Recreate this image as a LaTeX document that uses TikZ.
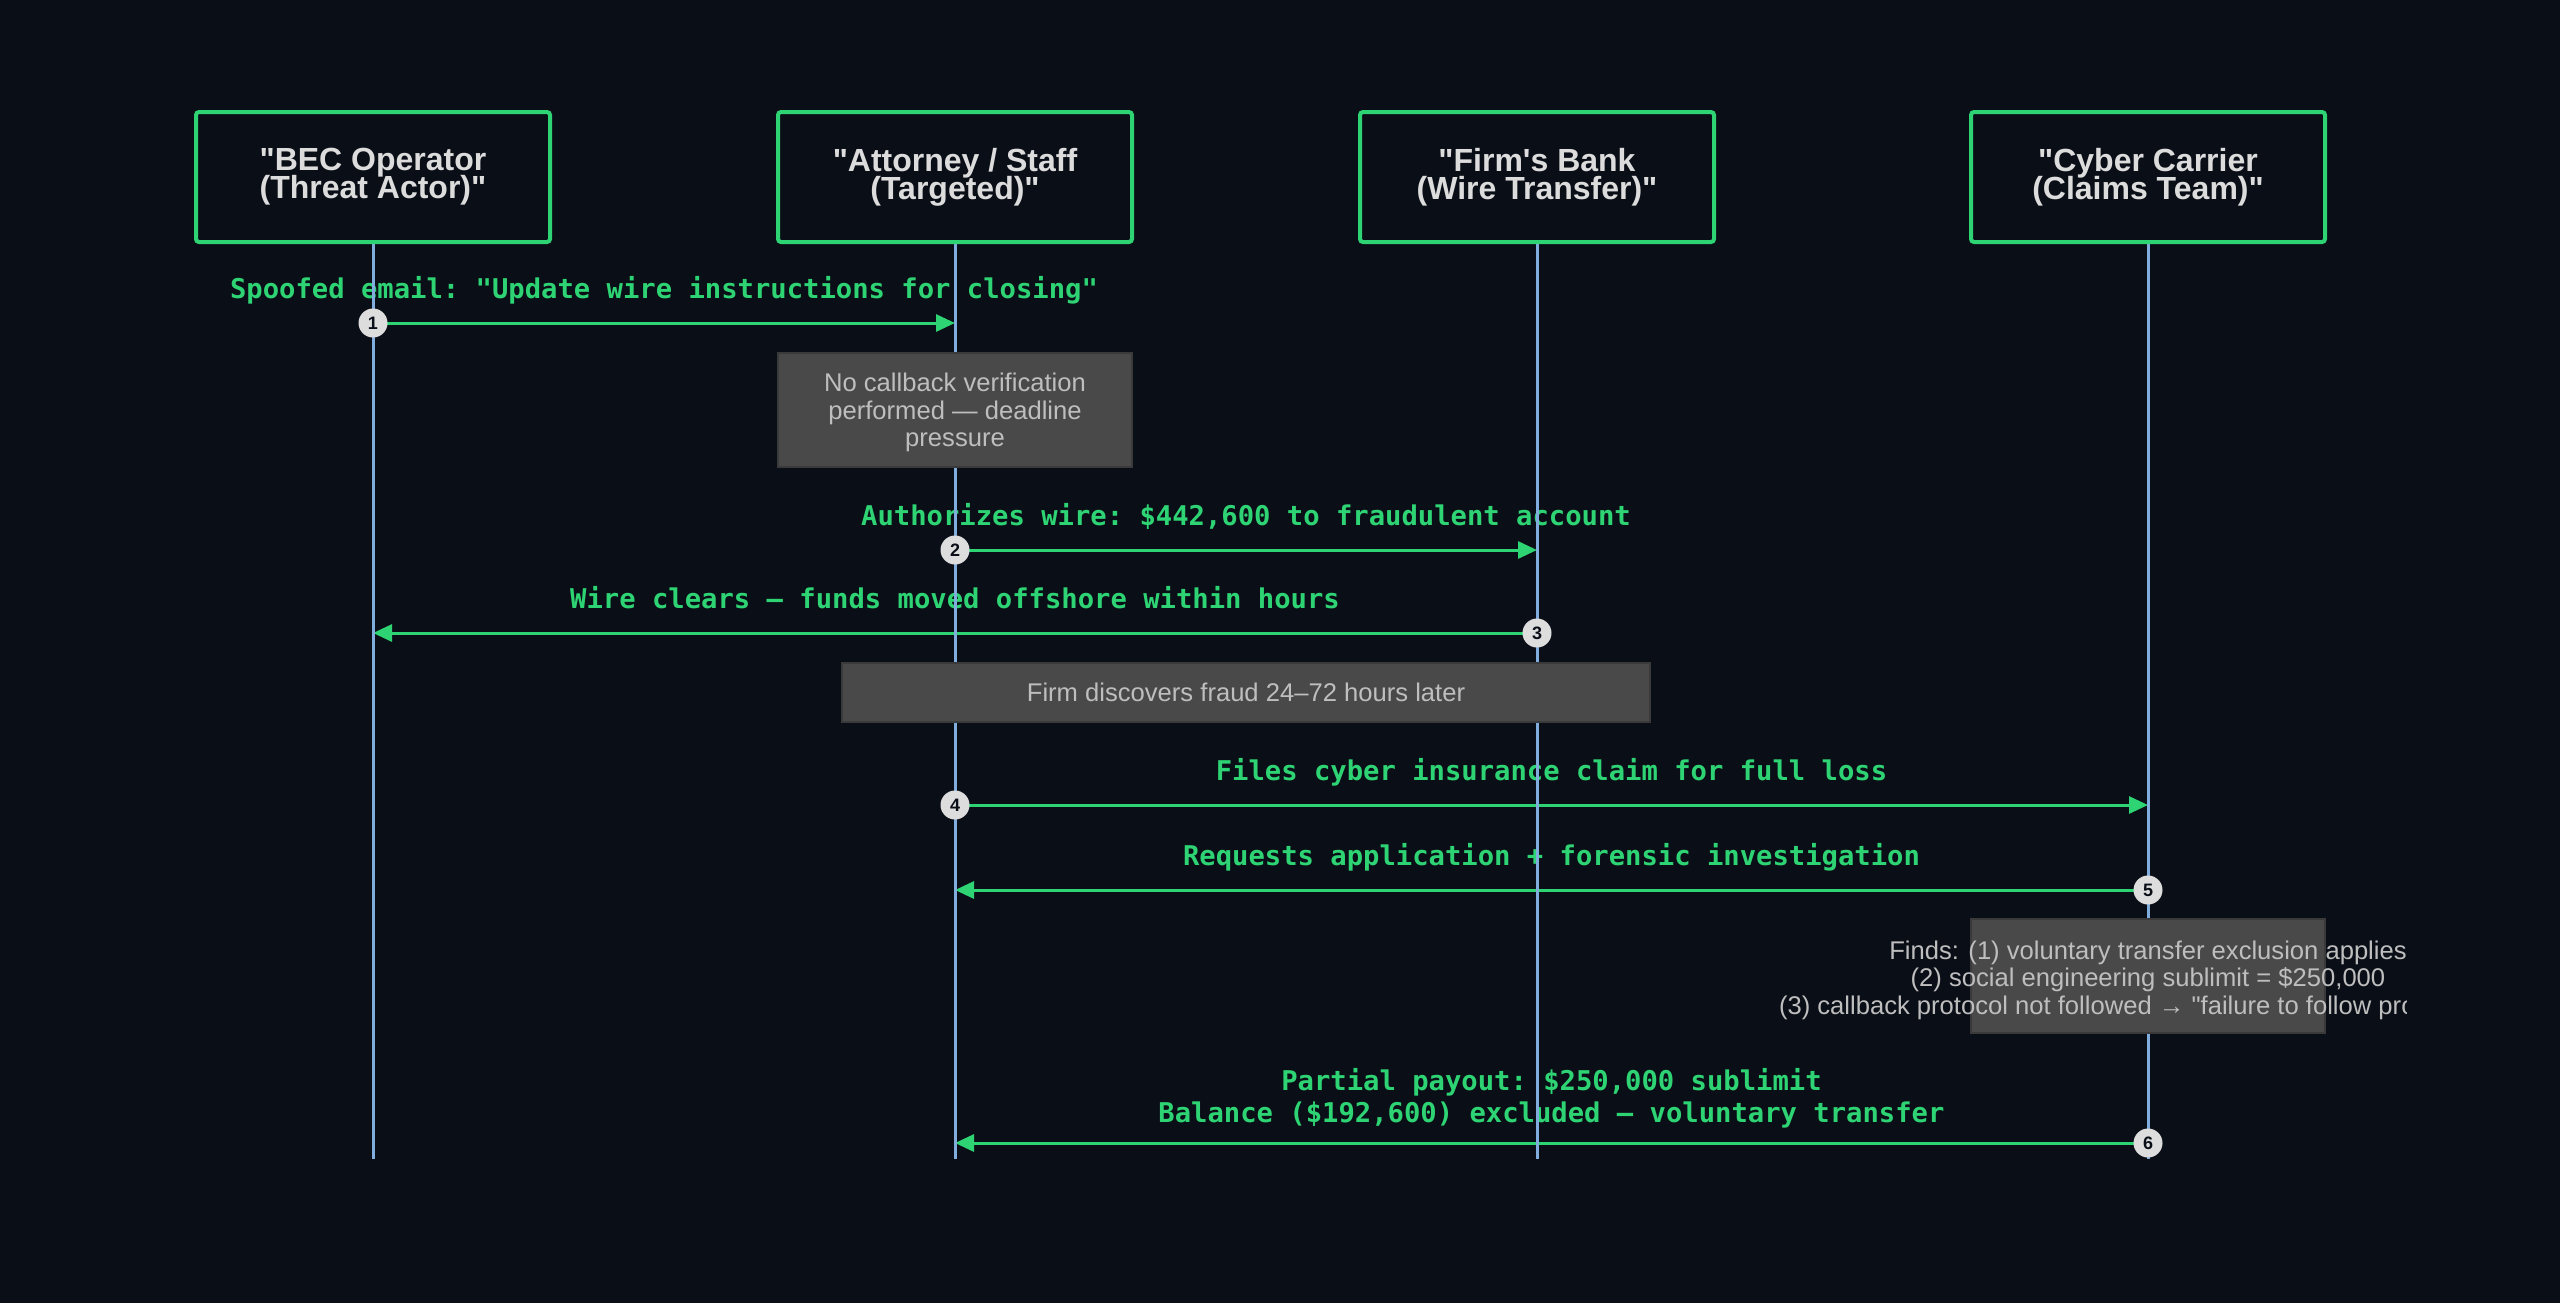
\documentclass[tikz,border=0pt]{standalone}
\usepackage{fontspec}
\usetikzlibrary{arrows.meta,positioning}
\newfontfamily\labfont{Liberation Sans}
\newfontfamily\codefont{DejaVu Sans Mono}
\definecolor{bgdark}{RGB}{10,14,23}
\definecolor{actgreen}{RGB}{46,212,116}
\definecolor{acttext}{RGB}{220,220,220}
\definecolor{lifeblue}{RGB}{128,172,222}
\definecolor{notefill}{RGB}{73,73,73}
\definecolor{notedge}{RGB}{58,58,58}
\definecolor{notetext}{RGB}{190,190,190}
\definecolor{seqfill}{RGB}{221,221,221}
\setlength{\lineskiplimit}{-20pt}
\pgfdeclarelayer{bottom}
\pgfdeclarelayer{wires}
\pgfsetlayers{bottom,wires,main}
\tikzset{
  actor/.style  ={draw=actgreen, line width=2pt, rounded corners=1.5pt,
                  fill=bgdark, minimum width=177pt, minimum height=65pt,
                  align=center, text=acttext,
                  font=\labfont\bfseries\fontsize{16}{13.9}\selectfont},
  life/.style   ={lifeblue, line width=1.5pt},
  msg/.style    ={-{Triangle[length=9.5pt,width=8.5pt]}, actgreen,
                  line width=1.5pt},
  msglbl/.style ={font=\codefont\bfseries\fontsize{13.6}{16}\selectfont
                       \frenchspacing,
                  text=actgreen, inner sep=0pt, align=center,
                  anchor=base, yshift=12.5pt},
  note/.style   ={draw=notedge, fill=notefill, line width=1pt,
                  minimum width=177pt, minimum height=57pt, inner sep=0pt,
                  align=center, text=notetext, text depth=0pt,
                  font=\labfont\fontsize{12.8}{13.75}\selectfont},
  seqno/.style  ={circle, fill=seqfill, minimum size=14.5pt, inner sep=0pt,
                  text=bgdark, font=\labfont\bfseries\fontsize{9}{10}\selectfont},
}
\begin{document}
\begin{tikzpicture}[x=0.5pt, y=-0.5pt]
\begin{pgfonlayer}{bottom}
\fill[bgdark] (0,0) rectangle (2560,1303);
\end{pgfonlayer}
\useasboundingbox (0,0) rectangle (2560,1303);
% participants
\node[actor] (bec)  at (373,177)  {"BEC Operator\\(Threat Actor)"};
\node[actor] (atty) at (955,177)  {"Attorney / Staff\\(Targeted)"};
\node[actor] (bank) at (1537,177) {"Firm's Bank\\(Wire Transfer)"};
\node[actor] (carr) at (2148,177) {"Cyber Carrier\\(Claims Team)"};
\coordinate (becend)  at (373,1159);
\coordinate (attyend) at (955,1159);
\coordinate (bankend) at (1537,1159);
\coordinate (carrend) at (2148,1159);
% step markers
\node[seqno] (s1) at (373,323)  {1};
\node[seqno] (s2) at (955,550)  {2};
\node[seqno] (s3) at (1537,633) {3};
\node[seqno] (s4) at (955,805)  {4};
\node[seqno] (s5) at (2148,890) {5};
\node[seqno] (s6) at (2148,1143) {6};
\coordinate (t1) at (955,323);
\coordinate (t2) at (1537,550);
\coordinate (t3) at (373,633);
\coordinate (t4) at (2148,805);
\coordinate (t5) at (955,890);
\coordinate (t6) at (955,1143);
% notes
\node[note] (nocall) at (955,410)
  {No callback verification\\performed — deadline\\pressure};
\node[note, minimum width=404pt, minimum height=29.5pt] (found) at (1246,692.5)
  {Firm discovers fraud 24–72 hours later};
\node[note] (finds) at (2148,976) {};
\begin{scope}
\clip (0,0) rectangle (2406,1303);
\node[align=center, text=notetext, inner sep=0pt,
  font=\labfont\fontsize{12.8}{13.75}\selectfont]
  (findtxt) at (2148,980)
  {Finds: (1) voluntary transfer exclusion applies\\
   (2) social engineering sublimit = \$250,000\\
   \makebox[369pt][l]{(3) callback protocol not followed → "failure to follow pro}};
\end{scope}
\begin{pgfonlayer}{wires}
\draw[msg] (s1.center) -- (t1)
  node[msglbl, midway] {Spoofed email: "Update wire instructions for closing"};
\draw[msg] (s2.center) -- (t2)
  node[msglbl, midway] {Authorizes wire: \$442,600 to fraudulent account};
\draw[msg] (s3.center) -- (t3)
  node[msglbl, midway] {Wire clears — funds moved offshore within hours};
\draw[msg] (s4.center) -- (t4)
  node[msglbl, midway] {Files cyber insurance claim for full loss};
\draw[msg] (s5.center) -- (t5)
  node[msglbl, midway] {Requests application + forensic investigation};
\draw[msg] (s6.center) -- (t6)
  node[msglbl, midway, yshift=-2.3pt] {Partial payout: \$250,000 sublimit\\
  Balance (\$192,600) excluded — voluntary transfer};
% lifelines over the messages
\draw[life] (bec)  -- (becend);
\draw[life] (atty) -- (attyend);
\draw[life] (bank) -- (bankend);
\draw[life] (carr) -- (carrend);
\end{pgfonlayer}
\end{tikzpicture}
\end{document}
